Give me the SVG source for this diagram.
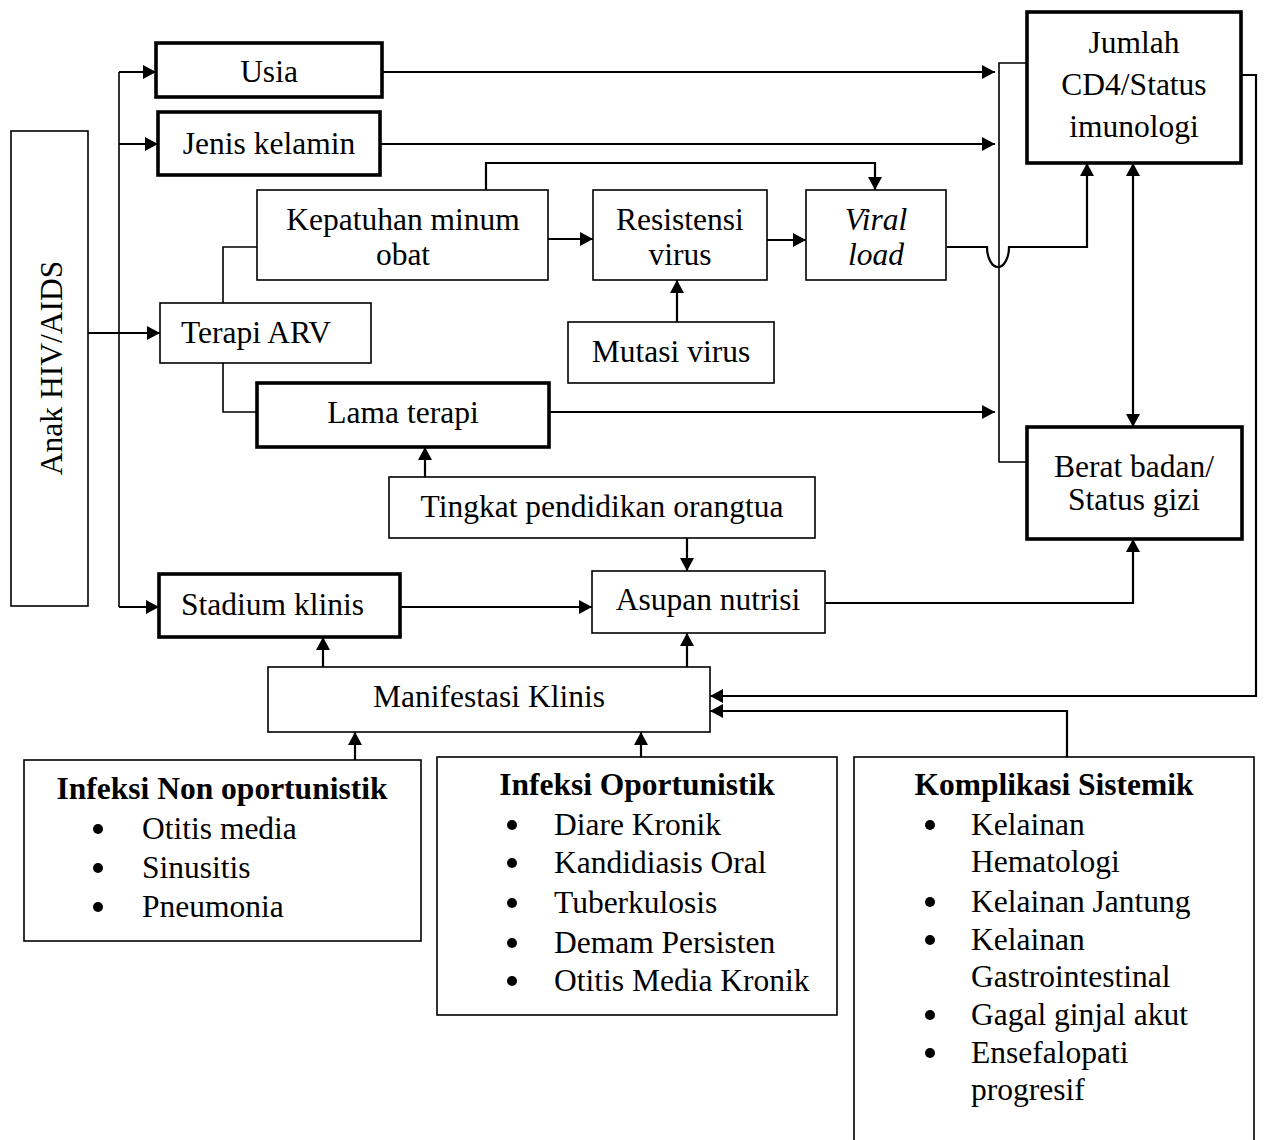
<svg xmlns="http://www.w3.org/2000/svg" width="1265" height="1140" viewBox="0 0 1265 1140">
<defs>
<marker id="ah" viewBox="0 0 13 14" markerWidth="13" markerHeight="14" refX="13" refY="7" orient="auto-start-reverse" markerUnits="userSpaceOnUse">
<path d="M0,0 L13,7 L0,14 z" fill="#000"/>
</marker>
<style>
.thin{fill:#fff;stroke:#000;stroke-width:1.6}
.thick{fill:#fff;stroke:#000;stroke-width:3.6}
.t{font-family:"Liberation Serif","Times New Roman",serif;font-size:31.5px;fill:#000}
.c{text-anchor:middle}
.b{font-weight:bold}
.i{font-style:italic}
.ln{fill:none;stroke:#000;stroke-width:1.6}
.ar{fill:none;stroke:#000;stroke-width:2.2;marker-end:url(#ah)}
.dar{fill:none;stroke:#000;stroke-width:2.2;marker-end:url(#ah);marker-start:url(#ah)}
</style>
</defs>
<rect width="1265" height="1140" fill="#fff"/>

<g id="connectors">
<path class="ln" d="M119,72 V607"/>
<path class="ar" d="M119,72 H156"/>
<path class="ar" d="M119,144 H158"/>
<path class="ar" d="M119,607 H159"/>
<path class="ar" d="M88,333 H160"/>
<path class="ar" d="M382,72 H995"/>
<path class="ar" d="M380,144 H995"/>
<path class="ln" d="M1027,63 H999 V462 H1027"/>
<path class="ln" d="M223,303 V247 H257"/>
<path class="ln" d="M223,363 V412 H257"/>
<path class="ar" d="M548,239 H593"/>
<path class="ar" d="M767,240 H806"/>
<path class="ar" d="M486,190 V163 H875 V190"/>
<path class="ar" d="M677,322 V280"/>
<path class="ar" d="M947,247 H987 A11,20 0 0 0 1009,247 H1087 V163"/>
<path class="ar" d="M549,412 H995"/>
<path class="ar" d="M425,477 V447"/>
<path class="ar" d="M687,538 V571"/>
<path class="ar" d="M400,607 H592"/>
<path class="ar" d="M825,603 H1133 V539"/>
<path class="dar" d="M1133,163 V427"/>
<path class="ar" d="M1241,75 H1256 V696 H710"/>
<path class="ar" d="M1067,757 V711 H710"/>
<path class="ar" d="M323,667 V637"/>
<path class="ar" d="M687,667 V633"/>
<path class="ar" d="M355,760 V732"/>
<path class="ar" d="M641,757 V732"/>
</g>

<g id="anak">
<rect class="thin" x="11" y="131" width="77" height="475"/>
<text class="t c" transform="translate(62,368) rotate(-90)">Anak HIV/AIDS</text>
</g>
<g id="usia">
<rect class="thick" x="156" y="43" width="226" height="54"/>
<text class="t c" x="269" y="82">Usia</text>
</g>
<g id="jenis">
<rect class="thick" x="158" y="112" width="222" height="63"/>
<text class="t c" x="269" y="154">Jenis kelamin</text>
</g>
<g id="cd4">
<rect class="thick" x="1027" y="12" width="214" height="151"/>
<text class="t c" x="1134" y="53">Jumlah</text>
<text class="t c" x="1134" y="95">CD4/Status</text>
<text class="t c" x="1134" y="137">imunologi</text>
</g>
<g id="kepatuhan">
<rect class="thin" x="257" y="190" width="291" height="90"/>
<text class="t c" x="403" y="230">Kepatuhan minum</text>
<text class="t c" x="403" y="265">obat</text>
</g>
<g id="resistensi">
<rect class="thin" x="593" y="190" width="174" height="90"/>
<text class="t c" x="680" y="230">Resistensi</text>
<text class="t c" x="680" y="265">virus</text>
</g>
<g id="viral">
<rect class="thin" x="806" y="190" width="140" height="90"/>
<text class="t c i" x="876" y="230">Viral</text>
<text class="t c i" x="876" y="265">load</text>
</g>
<g id="terapi">
<rect class="thin" x="160" y="303" width="211" height="60"/>
<text class="t" x="181" y="343">Terapi ARV</text>
</g>
<g id="mutasi">
<rect class="thin" x="568" y="322" width="206" height="61"/>
<text class="t c" x="671" y="362">Mutasi virus</text>
</g>
<g id="lama">
<rect class="thick" x="257" y="383" width="292" height="64"/>
<text class="t c" x="403" y="423">Lama terapi</text>
</g>
<g id="tingkat">
<rect class="thin" x="389" y="477" width="426" height="61"/>
<text class="t c" x="602" y="517">Tingkat pendidikan orangtua</text>
</g>
<g id="berat">
<rect class="thick" x="1027" y="427" width="215" height="112"/>
<text class="t c" x="1134" y="477">Berat badan/</text>
<text class="t c" x="1134" y="510">Status gizi</text>
</g>
<g id="stadium">
<rect class="thick" x="159" y="574" width="241" height="63"/>
<text class="t" x="181" y="615">Stadium klinis</text>
</g>
<g id="asupan">
<rect class="thin" x="592" y="571" width="233" height="62"/>
<text class="t c" x="708" y="610">Asupan nutrisi</text>
</g>
<g id="manifestasi">
<rect class="thin" x="268" y="667" width="442" height="65"/>
<text class="t c" x="489" y="707">Manifestasi Klinis</text>
</g>
<g id="infeksi-non">
<rect class="thin" x="24" y="760" width="397" height="181"/>
<text class="t c b" x="222" y="799">Infeksi Non oportunistik</text>
<circle cx="98" cy="829" r="5"/>
<text class="t" x="142" y="839">Otitis media</text>
<circle cx="98" cy="868" r="5"/>
<text class="t" x="142" y="878">Sinusitis</text>
<circle cx="98" cy="907" r="5"/>
<text class="t" x="142" y="917">Pneumonia</text>
</g>
<g id="infeksi-op">
<rect class="thin" x="437" y="757" width="400" height="258"/>
<text class="t c b" x="637" y="795">Infeksi Oportunistik</text>
<circle cx="512" cy="825" r="5"/>
<text class="t" x="554" y="835">Diare Kronik</text>
<circle cx="512" cy="863" r="5"/>
<text class="t" x="554" y="873">Kandidiasis Oral</text>
<circle cx="512" cy="903" r="5"/>
<text class="t" x="554" y="913">Tuberkulosis</text>
<circle cx="512" cy="943" r="5"/>
<text class="t" x="554" y="953">Demam Persisten</text>
<circle cx="512" cy="981" r="5"/>
<text class="t" x="554" y="991">Otitis Media Kronik</text>
</g>
<g id="komplikasi">
<rect class="thin" x="854" y="757" width="400" height="420"/>
<text class="t c b" x="1054" y="795">Komplikasi Sistemik</text>
<circle cx="930" cy="825" r="5"/>
<text class="t" x="971" y="835">Kelainan</text>
<text class="t" x="971" y="872">Hematologi</text>
<circle cx="930" cy="902" r="5"/>
<text class="t" x="971" y="912">Kelainan Jantung</text>
<circle cx="930" cy="940" r="5"/>
<text class="t" x="971" y="950">Kelainan</text>
<text class="t" x="971" y="987">Gastrointestinal</text>
<circle cx="930" cy="1015" r="5"/>
<text class="t" x="971" y="1025">Gagal ginjal akut</text>
<circle cx="930" cy="1053" r="5"/>
<text class="t" x="971" y="1063">Ensefalopati</text>
<text class="t" x="971" y="1100">progresif</text>
</g>
</svg>
